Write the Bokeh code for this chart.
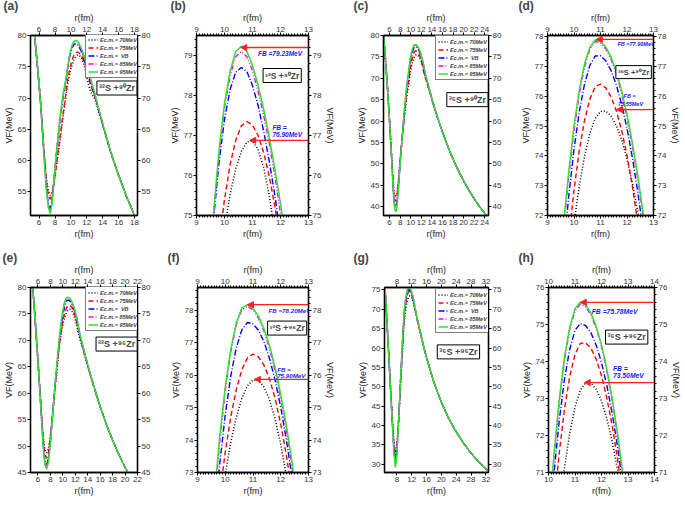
from bokeh.plotting import figure
from bokeh.models import (LinearAxis, SingleIntervalTicker, Range1d, Legend, LegendItem,
                          Label, Arrow, NormalHead)
from bokeh.layouts import row, column
from bokeh.embed import file_html
from bokeh.resources import INLINE

FONT = "Liberation Sans"

# ---------------- data ----------------
energy_labels = ["Ec.m.= 70MeV", "Ec.m.= 75MeV", "Ec.m.=  VB", "Ec.m.= 85MeV", "Ec.m.= 95MeV"]

# System A: 32S + 90Zr (panels a, b)
r_A = [5.0, 5.4, 5.8, 6.2, 6.6, 6.9, 7.15, 7.4, 7.65, 7.9, 8.2, 8.6, 9.0, 9.4, 9.6, 9.8, 10.0, 10.2,
       10.4, 10.6, 10.8, 11.0, 11.2, 11.4, 11.6, 11.8, 12.0, 12.2, 12.5, 13.0, 14.0, 15.0, 16.0, 17.0, 18.0, 18.5]
vA_70 = [86, 80.5, 75.0, 69.3, 62.0, 57.2, 55.2, 54.4, 55.0, 56.8, 59.3, 62.8, 66.8, 70.6, 72.3, 73.6, 74.68, 75.53,
         76.17, 76.6, 76.84, 76.86, 76.65, 76.2, 75.49, 74.54, 73.34, 72.2, 70.9, 69.9, 65.6, 61.3, 57.6, 54.2, 51.2, 49.8]
vA_75 = [86, 80.5, 75.0, 69.2, 61.8, 56.8, 54.6, 53.8, 54.6, 56.6, 59.5, 63.5, 67.3, 71.0, 73.0, 74.3, 75.4, 76.27,
         76.88, 77.24, 77.35, 77.26, 77.0, 76.57, 75.98, 75.22, 74.29, 73.3, 71.9, 70.3, 65.7, 61.3, 57.6, 54.2, 51.2, 49.8]
vA_VB = [86, 80.5, 75.0, 69.0, 61.3, 56.0, 53.2, 52.3, 53.9, 57.3, 61.4, 66.2, 70.0, 72.9, 74.85, 76.3, 77.4, 78.15,
         78.58, 78.7, 78.6, 78.25, 77.75, 77.1, 76.35, 75.5, 74.5, 73.6, 72.4, 70.4, 65.8, 61.4, 57.6, 54.2, 51.2, 49.8]
vA_85 = [86, 80.5, 75.0, 69.0, 61.2, 55.8, 52.9, 52.0, 53.6, 57.2, 61.5, 66.4, 70.3, 73.1, 74.9, 76.5, 77.7, 78.5,
         78.97, 79.1, 78.97, 78.62, 78.1, 77.5, 76.8, 76.0, 75.05, 74.1, 72.8, 70.6, 65.9, 61.4, 57.6, 54.2, 51.2, 49.8]
vA_95 = [86, 80.5, 75.0, 69.0, 61.0, 55.5, 52.5, 51.5, 53.2, 57.0, 61.5, 66.5, 70.5, 73.3, 75.0, 76.6, 77.8, 78.6,
         79.1, 79.23, 79.1, 78.75, 78.25, 77.65, 76.95, 76.15, 75.3, 74.4, 73.0, 70.7, 65.9, 61.4, 57.6, 54.2, 51.2, 49.8]

# System B: 36S + 90Zr (panels c, d)
r_B = [4.8, 5.2, 5.6, 6.0, 6.4, 6.8, 7.0, 7.2, 7.4, 7.7, 8.0, 8.4, 8.8, 9.2, 9.4, 9.6, 9.8, 10.0, 10.2, 10.4,
       10.6, 10.8, 11.0, 11.2, 11.4, 11.6, 11.8, 12.0, 12.2, 12.4, 12.6, 12.8, 13.2, 14.0, 15.0, 16.0, 17.0, 18.0,
       19.0, 20.0, 21.0, 22.0, 23.0, 24.0, 24.8]
vB_70 = [81, 75, 68, 60.3, 51.8, 43.8, 42.6, 42.4, 43.1, 46.5, 51.0, 56.0, 60.8, 65.3, 66.8, 68.4, 70.2, 71.73, 73.0, 74.0,
         74.76, 75.26, 75.5, 75.51, 75.34, 75.02, 74.54, 73.9, 73.1, 72.15, 71.1, 70.2, 68.4, 65.0, 61.0, 57.4, 54.1, 51.1,
         48.4, 46.0, 43.8, 41.8, 40.0, 38.4, 37.2]
vB_75 = [81, 75, 68, 60.2, 51.6, 43.0, 41.5, 41.2, 42.0, 45.7, 50.5, 56.0, 61.2, 66.0, 67.6, 69.3, 71.2, 72.86, 74.19, 75.21,
         75.92, 76.32, 76.42, 76.29, 75.99, 75.51, 74.85, 74.02, 73.0, 71.8, 70.8, 70.0, 68.5, 65.1, 61.0, 57.4, 54.1, 51.1,
         48.4, 46.0, 43.8, 41.8, 40.0, 38.4, 37.2]
vB_VB = [81, 75, 68, 60, 51.3, 42.2, 40.3, 40.1, 40.9, 45.0, 50.2, 56.3, 62.0, 67.2, 69.0, 70.7, 72.64, 74.22, 75.49, 76.43,
         77.05, 77.36, 77.37, 77.2, 76.87, 76.38, 75.73, 74.93, 73.96, 72.83, 71.54, 70.5, 68.8, 65.2, 61.1, 57.4, 54.1, 51.1,
         48.4, 46.0, 43.8, 41.8, 40.0, 38.4, 37.2]
vB_85 = [81, 75, 68, 60, 51.2, 42.0, 40.0, 39.8, 40.6, 44.8, 50.2, 56.5, 62.3, 67.5, 69.6, 71.5, 73.3, 74.85, 76.1, 77.0,
         77.6, 77.85, 77.8, 77.6, 77.25, 76.75, 76.1, 75.3, 74.35, 73.28, 72.03, 70.8, 68.95, 65.3, 61.1, 57.4, 54.1, 51.1,
         48.4, 46.0, 43.8, 41.8, 40.0, 38.4, 37.2]
vB_95 = [81, 75, 68, 60, 51, 41.5, 39.3, 38.8, 39.8, 44.3, 50.0, 56.5, 62.5, 67.5, 69.8, 71.7, 73.47, 75.0, 76.22, 77.1,
         77.66, 77.9, 77.85, 77.66, 77.32, 76.83, 76.19, 75.39, 74.45, 73.38, 72.13, 70.9, 69.0, 65.3, 61.1, 57.4, 54.1, 51.1,
         48.4, 46.0, 43.8, 41.8, 40.0, 38.4, 37.2]

# System C: 32S + 96Zr (panels e, f)
r_C = [4.8, 5.2, 5.6, 6.0, 6.4, 6.8, 7.1, 7.4, 7.7, 8.0, 8.4, 8.8, 9.2, 9.4, 9.6, 9.8, 10.0, 10.2, 10.4, 10.6,
       10.8, 11.0, 11.2, 11.4, 11.6, 11.8, 12.0, 12.2, 12.4, 12.6, 12.8, 13.2, 14.0, 15.0, 16.0, 17.0, 18.0, 19.0,
       20.0, 21.0, 22.0]
vC_70 = [86, 79.5, 73, 66.3, 59.3, 52.3, 49.3, 48.7, 49.5, 52.0, 56.6, 61.5, 66.2, 68.79, 70.37, 71.76, 72.94, 73.93, 74.71, 75.29,
         75.67, 75.85, 75.84, 75.63, 75.23, 74.64, 73.87, 72.9, 71.74, 70.8, 70.0, 68.4, 65.1, 61.1, 57.5, 54.1, 51.1, 48.4,
         46.0, 43.8, 41.8]
vC_75 = [86, 79.5, 73, 66.2, 59.0, 51.8, 48.5, 47.7, 48.8, 51.6, 56.6, 61.8, 66.4, 68.92, 70.73, 72.3, 73.63, 74.72, 75.56, 76.17,
         76.53, 76.65, 76.56, 76.3, 75.87, 75.27, 74.49, 73.54, 72.42, 71.3, 70.4, 68.6, 65.2, 61.1, 57.5, 54.1, 51.1, 48.4,
         46.0, 43.8, 41.8]
vC_VB = [86, 79.5, 73, 66, 58.7, 51.0, 47.3, 46.5, 47.8, 51.0, 56.6, 62.2, 66.9, 69.25, 71.42, 73.26, 74.78, 75.98, 76.85, 77.4,
         77.62, 77.58, 77.38, 77.02, 76.5, 75.83, 75.01, 74.02, 72.88, 71.7, 70.6, 68.8, 65.3, 61.2, 57.5, 54.1, 51.1, 48.4,
         46.0, 43.8, 41.8]
vC_85 = [86, 79.5, 73, 66, 58.6, 50.8, 47.0, 46.2, 47.5, 50.8, 56.6, 62.4, 67.3, 69.75, 72.0, 73.95, 75.52, 76.72, 77.56, 78.02,
         78.12, 78.01, 77.75, 77.35, 76.8, 76.12, 75.28, 74.32, 73.2, 71.97, 70.8, 68.95, 65.4, 61.2, 57.5, 54.1, 51.1, 48.4,
         46.0, 43.8, 41.8]
vC_95 = [86, 79.5, 73, 66, 58.5, 50.5, 46.5, 45.6, 47.0, 50.5, 56.5, 62.5, 67.5, 69.93, 72.19, 74.09, 75.63, 76.8, 77.62, 78.07,
         78.17, 78.06, 77.81, 77.42, 76.89, 76.22, 75.4, 74.45, 73.35, 72.11, 70.9, 69.0, 65.4, 61.2, 57.5, 54.1, 51.1, 48.4,
         46.0, 43.8, 41.8]

# System D: 36S + 96Zr (panels g, h)
r_D = [4.4, 5.0, 5.6, 6.2, 6.8, 7.2, 7.6, 8.0, 8.5, 9.0, 9.5, 9.8, 10.0, 10.2, 10.4, 10.6, 10.8, 11.0, 11.2, 11.4,
       11.6, 11.8, 12.0, 12.2, 12.4, 12.6, 12.8, 13.0, 13.4, 14.0, 15.0, 16.0, 18.0, 20.0, 22.0, 24.0, 26.0, 28.0,
       30.0, 32.0, 33.0]
vD_70 = [82, 72.5, 62, 51.7, 41.5, 36.0, 33.0, 35.0, 42.0, 50.3, 58.5, 63.8, 66.4, 68.47, 69.91, 71.11, 72.06, 72.77, 73.22, 73.43,
         73.42, 73.25, 72.93, 72.46, 71.85, 71.09, 70.18, 69.3, 67.6, 65.1, 61.2, 57.5, 51.1, 46.0, 41.8, 38.4, 35.4, 32.9,
         30.7, 28.8, 27.9]
vD_75 = [82, 72.5, 62, 51.5, 41.0, 35.0, 31.5, 34.0, 41.8, 51.0, 59.8, 65.2, 67.9, 69.99, 71.49, 72.69, 73.59, 74.19, 74.49, 74.51,
         74.36, 74.06, 73.62, 73.02, 72.28, 71.39, 70.34, 69.5, 67.7, 65.2, 61.2, 57.5, 51.1, 46.0, 41.8, 38.4, 35.4, 32.9,
         30.7, 28.8, 27.9]
vD_VB = [82, 72.5, 62, 51.3, 40.5, 34.0, 30.2, 33.2, 41.6, 51.5, 60.8, 66.2, 69.0, 70.92, 72.37, 73.51, 74.33, 74.84, 75.03, 74.97,
         74.78, 74.44, 73.97, 73.36, 72.61, 71.72, 70.69, 69.7, 67.8, 65.3, 61.3, 57.5, 51.1, 46.0, 41.8, 38.4, 35.4, 32.9,
         30.7, 28.8, 27.9]
vD_85 = [82, 72.5, 62, 51.2, 40.3, 33.5, 29.8, 32.8, 41.5, 51.8, 61.2, 66.2, 69.5, 71.36, 72.86, 74.03, 74.87, 75.37, 75.55, 75.48,
         75.26, 74.9, 74.4, 73.75, 72.96, 72.02, 70.94, 69.85, 67.95, 65.4, 61.3, 57.5, 51.1, 46.0, 41.8, 38.4, 35.4, 32.9,
         30.7, 28.8, 27.9]
vD_95 = [82, 72.5, 62, 51, 40.0, 33.0, 29.2, 32.5, 41.5, 52.0, 61.5, 66.5, 69.6, 71.43, 72.93, 74.1, 74.93, 75.43, 75.6, 75.53,
         75.31, 74.95, 74.45, 73.8, 73.01, 72.07, 70.99, 69.9, 68.0, 65.4, 61.3, 57.5, 51.1, 46.0, 41.8, 38.4, 35.4, 32.9,
         30.7, 28.8, 27.9]

systems = {
    "A": (r_A, [vA_70, vA_75, vA_VB, vA_85, vA_95], "\u00b3\u00b2S +\u2079\u2070Zr"),
    "B": (r_B, [vB_70, vB_75, vB_VB, vB_85, vB_95], "\u00b3\u2076S +\u2079\u2070Zr"),
    "C": (r_C, [vC_70, vC_75, vC_VB, vC_85, vC_95], "\u00b3\u00b2S +\u2079\u2076Zr"),
    "D": (r_D, [vD_70, vD_75, vD_VB, vD_85, vD_95], "\u00b3\u2076S +\u2079\u2076Zr"),
}

# fusion barrier arrows as drawn: (level, r of arrow tip)
fb_b = [79.20, 76.88]; tip_b = [10.58, 10.90]
fb_d = [77.92, 75.56]; tip_d = [10.84, 11.60]
fb_f = [78.17, 75.87]; tip_f = [10.80, 11.05]
fb_h = [75.60, 73.43]; tip_h = [11.20, 11.35]

COLORS = ["black", "#ff0000", "#0000ff", "#ff00ff", "#33dd33"]
DASHES = ["1 2", "5 3", "6 2 1 2", "5 2 1 2 1 2", "solid"]
WIDTHS = [1.5, 1.4, 1.4, 1.4, 1.5]

LEG_W, LEG_H = 53, 44  # approximate legend box size in px (for placement at top right)


def style_axis(ax, label, minor):
    ax.axis_label = label
    ax.axis_label_text_font = FONT
    ax.axis_label_text_font_size = "9px"
    ax.axis_label_text_font_style = "normal"
    ax.axis_label_text_color = "#222222"
    ax.axis_label_standoff = 1
    ax.major_label_text_font = FONT
    ax.major_label_text_font_size = "8px"
    ax.major_label_text_color = "#333333"
    ax.major_label_standoff = 1
    ax.major_tick_in = 0
    ax.major_tick_out = 3
    ax.axis_line_width = 1.3
    ax.major_tick_line_width = 1
    ax.minor_tick_in = 0
    if minor:
        ax.minor_tick_out = 2
    else:
        ax.minor_tick_line_color = None


def panel(tag, tag_offset, sysname, xr, yr, xint, yint, w, h, b, wide, right_label,
          sys_pos, fb=None, tip=None, fb_text=None, fb_size="6.5px", sys_size="9px", leg_gap=2):
    r, series, sys_text = systems[sysname]
    L, R, T, B = b
    p = figure(width=w, height=h, x_range=Range1d(*xr), y_range=Range1d(*yr),
               output_backend="svg", toolbar_location=None,
               x_axis_location=None, y_axis_location=None,
               min_border_left=L, min_border_right=R, min_border_top=T, min_border_bottom=B)
    p.grid.visible = False
    p.outline_line_color = "black"
    p.outline_line_width = 1.3
    # panel tag as a left-aligned title pulled down beside the top axis label
    p.title.text = tag
    p.title.align = "left"
    p.title.offset = tag_offset
    p.title.standoff = -7
    p.title.text_font = FONT
    p.title.text_font_size = "12px"
    p.title.text_font_style = "bold"

    minor = not wide
    nx = 0 if wide else 10
    ny = 0 if wide else 5
    for loc in ["below", "above"]:
        ax = LinearAxis(ticker=SingleIntervalTicker(interval=xint, num_minor_ticks=nx))
        style_axis(ax, "r(fm)", minor)
        p.add_layout(ax, loc)
    for loc in ["left", "right"]:
        ax = LinearAxis(ticker=SingleIntervalTicker(interval=yint, num_minor_ticks=ny))
        lab = "VF(MeV)" if (loc == "left" or right_label) else None
        style_axis(ax, lab, minor)
        p.add_layout(ax, loc)

    rends = []
    for v, c, d, lw in zip(series, COLORS, DASHES, WIDTHS):
        rr = p.line(r, v, line_color=c, line_dash=d, line_width=lw)
        rends.append(rr)

    if wide:
        fw, fh = w - L - R, h - T - B
        items = [LegendItem(label=lab, renderers=[rr]) for lab, rr in zip(energy_labels, rends)]
        leg = Legend(items=items, location=(fw - LEG_W, fh - LEG_H - leg_gap))
        leg.label_text_font = FONT
        leg.label_text_font_size = "5.5px"
        leg.label_text_font_style = "bold italic"
        leg.glyph_width = 10
        leg.glyph_height = 7
        leg.label_height = 7
        leg.label_standoff = 2
        leg.spacing = 1
        leg.padding = 2
        leg.margin = 0
        leg.border_line_color = "black"
        leg.border_line_width = 1
        leg.background_fill_alpha = 1.0
        p.add_layout(leg)

    sx, sy, align = sys_pos
    p.add_layout(Label(x=sx, y=sy, text=sys_text, text_font=FONT, text_font_size=sys_size,
                       text_font_style="bold", text_align=align, text_baseline="middle",
                       border_line_color="black", border_line_width=1,
                       background_fill_color="white", padding=2))

    if fb is not None:
        for val, tx in zip(fb, tip):
            p.add_layout(Arrow(x_start=xr[1], y_start=val, x_end=tx, y_end=val,
                               line_color="#ff2020", line_width=1.3,
                               end=NormalHead(size=6, fill_color="#ff2020", line_color="#ff2020")))
        for (tx, ty, txt) in fb_text:
            p.add_layout(Label(x=tx, y=ty, text=txt, text_font=FONT, text_font_size=fb_size,
                               text_font_style="bold italic", text_color="#1a1aff",
                               text_baseline="middle", text_align="left"))
    return p


# row 1 (y 0..250)
pa = panel("(a)", -27, "A", (4.92, 18.37), (51.2, 80), 2, 5, 162, 250, (29, 25, 33, 34), True,
           False, (18.3, 71.6, "right"), leg_gap=2)
pb = panel("(b)", -26, "A", (9, 13), (75, 79.5), 1, 1, 176, 250, (34, 30, 33, 34), False,
           True, (12.06, 78.5, "center"), fb_b, tip_b,
           [(11.2, 79.05, "FB =79.23MeV"), (11.71, 77.2, "FB ="), (11.71, 77.02, "76.90MeV")], "6.5px", "8.5px")
pc = panel("(c)", -30, "B", (4.86, 24.7), (37.9, 80), 2, 5, 174, 250, (45, 24, 33, 35), True,
           False, (24.6, 65.0, "right"), leg_gap=3)
pd = panel("(d)", -29, "B", (9, 13), (72, 78.05), 1, 1, 172, 250, (35, 31, 33, 34), False,
           True, (12.25, 76.82, "center"), fb_d, tip_d,
           [(11.64, 77.78, "FB =77.90MeV"), (11.87, 76.0, "FB ="), (11.66, 75.75, "75.55MeV")], "5.5px", "7.5px")
# row 2 (y 250..505)
pe = panel("(e)", -28, "C", (4.8, 22), (45, 80), 2, 5, 162, 255, (29, 25, 37, 27), True,
           False, (21.95, 69.3, "right"), leg_gap=6)
pf = panel("(f)", -30, "C", (9, 13), (73, 78.7), 1, 1, 176, 255, (35, 26, 33, 27), False,
           True, (12.23, 77.45, "center"), fb_f, tip_f,
           [(11.56, 78.0, "FB =78.20MeV"), (11.87, 76.18, "FB ="), (11.87, 75.99, "75.90MeV")], "6.2px", "8.5px")
pg = panel("(g)", -31, "D", (4.67, 32.7), (27.9, 75.6), 4, 5, 174, 255, (46, 24, 36, 33), True,
           False, (30.3, 59.0, "right"), leg_gap=3)
ph = panel("(h)", -30, "D", (10, 14), (71, 76), 1, 1, 172, 255, (36, 28, 33, 33), False,
           True, (12.95, 74.66, "center"), fb_h, tip_h,
           [(11.63, 75.35, "FB =75.78MeV"), (12.43, 73.8, "FB ="), (12.43, 73.61, "73.50MeV")], "6.8px", "9px")

layout = column(row(pa, pb, pc, pd), row(pe, pf, pg, ph))
open("out.html", "w").write(file_html(layout, INLINE))
